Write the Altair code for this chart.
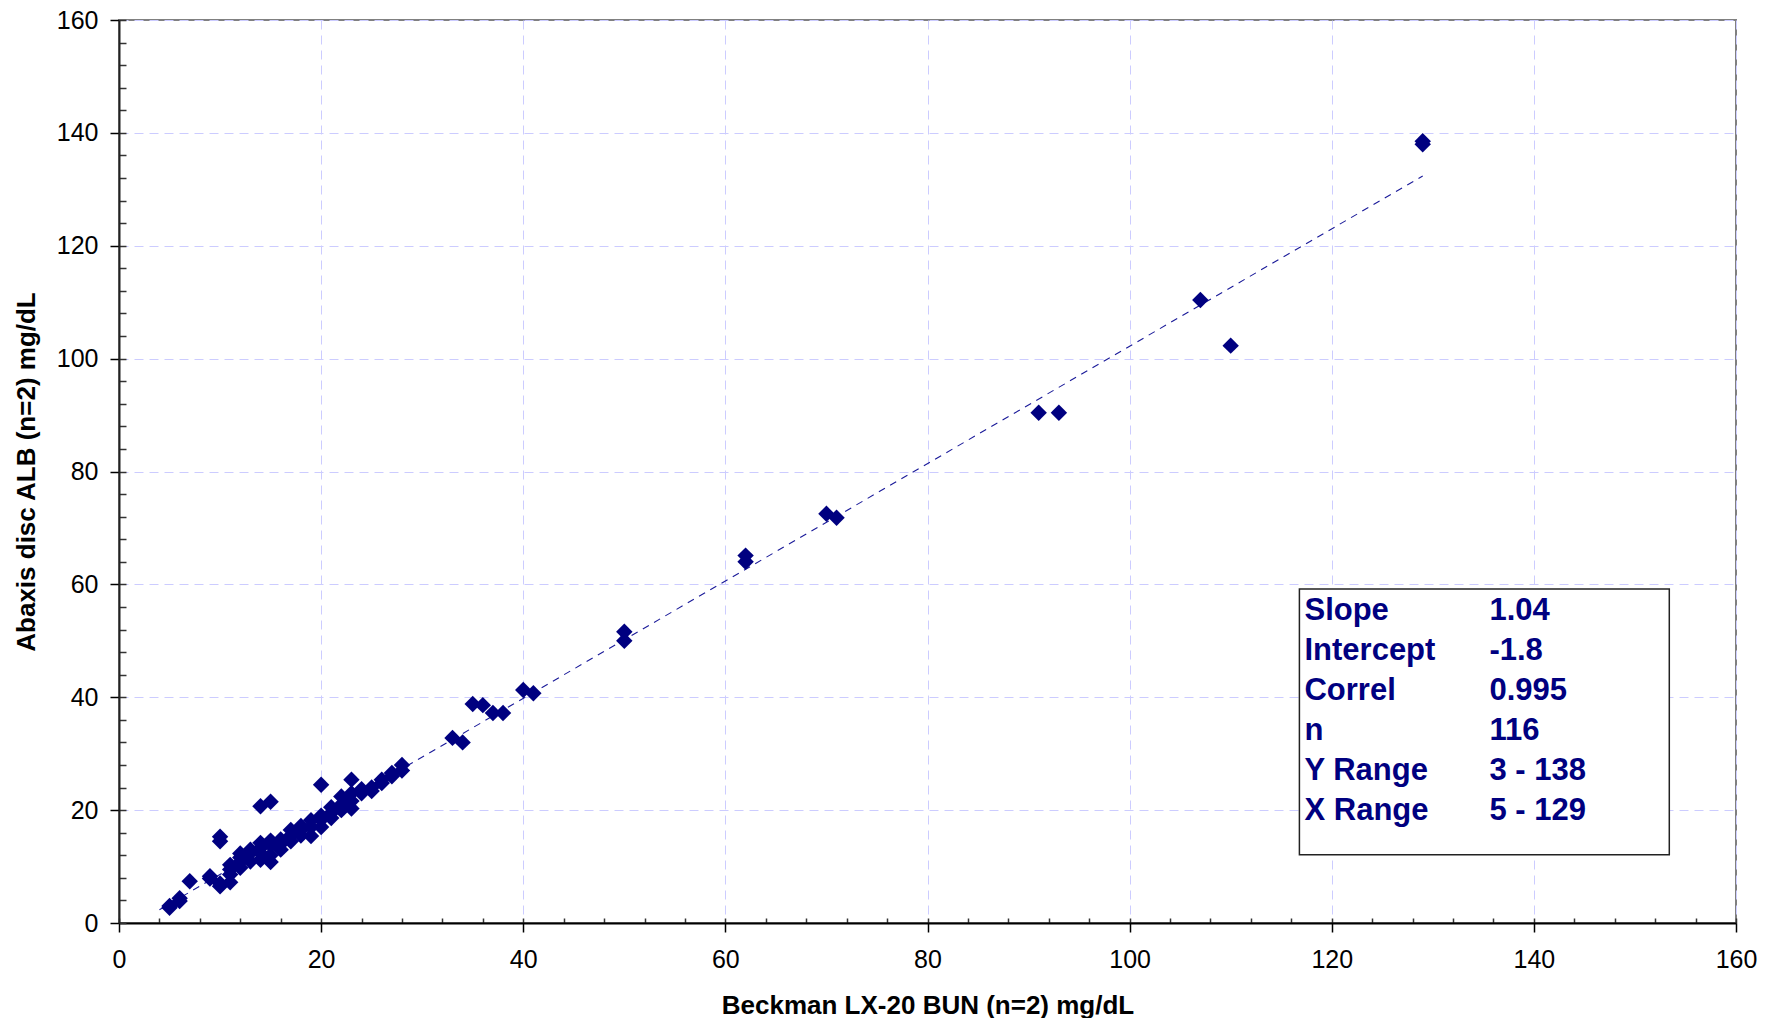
import altair as alt
import pandas as pd

# ---- data ----
beckman_x = [5, 5, 6, 6, 7, 9, 9, 10, 10, 11, 11, 10, 10,
             11, 11,
             12, 12, 12, 12,
             13, 13, 13,
             14, 14, 14, 14, 14,
             15, 15, 15, 15, 15,
             16, 16, 16,
             17, 17, 17,
             18, 18, 18,
             19, 19, 19,
             20, 20, 20, 20,
             21, 21, 21,
             22, 22, 22,
             23, 23, 23, 23,
             24, 24,
             25, 25,
             26, 26,
             27, 27,
             28, 28,
             33, 34, 35, 36, 37, 38, 40, 41,
             50, 50, 62, 62, 70, 71, 91, 93, 107, 110, 129, 129]
abaxis_y = [2.7, 3.0, 3.9, 4.4, 7.4, 8.3, 7.9, 6.5, 7.0, 7.2, 8.6, 15.3, 14.5,
            9.5, 10.3,
            9.8, 10.8, 11.6, 12.3,
            10.9, 12.4, 13.0,
            11.2, 12.4, 13.3, 14.2, 20.7,
            10.8, 12.0, 13.8, 14.6, 21.5,
            13.0, 14.0, 14.8,
            14.5, 15.5, 16.5,
            15.5, 16.5, 17.2,
            15.4, 17.0, 18.2,
            17.0, 18.3, 19.0, 24.5,
            18.6, 19.5, 20.5,
            20.0, 21.0, 22.4,
            20.3, 21.6, 23.0, 25.4,
            23.0, 23.7,
            23.4, 24.0,
            24.8, 25.4,
            26.0, 26.6,
            27.0, 28.0,
            32.8, 32.0, 38.8, 38.6, 37.2, 37.2, 41.3, 40.7,
            51.6, 50.0, 65.1, 64.0, 72.5, 71.8, 90.4, 90.4, 110.4, 102.3, 138.5, 138.0]

# regression line (from the stats box)
slope = 1.04
intercept = -1.8
fit_x = [4, 129]

stat_names = ["Slope", "Intercept", "Correl", "n", "Y Range", "X Range"]
stat_values = ["1.04", "-1.8", "0.995", "116", "3 - 138", "5 - 129"]

major_ticks = list(range(0, 161, 20))
minor_ticks = list(range(0, 161, 4))

# ---- frames ----
pts = pd.DataFrame({"x": beckman_x, "y": abaxis_y})
fit = pd.DataFrame({"x": fit_x, "y": [slope * v + intercept for v in fit_x]})

# stats box placement (data units)
box_left, box_right, box_top, box_bottom = 116.8, 153.4, 59.2, 12.1
row_top, row_step = 55.3, 7.1
label_x, value_x = 117.3, 135.6
stats = pd.DataFrame({
    "name": stat_names,
    "value": stat_values,
    "y": [row_top - row_step * i for i in range(len(stat_names))],
    "lx": [label_x] * len(stat_names),
    "vx": [value_x] * len(stat_names),
})
box = pd.DataFrame({"x1": [box_left], "x2": [box_right], "y1": [box_top], "y2": [box_bottom]})

NAVY = "#000080"
FONT = "Liberation Sans"

xs = alt.Scale(domain=[0, 160], nice=False, zero=False)
ys = alt.Scale(domain=[0, 160], nice=False, zero=False)

major_x = alt.Axis(
    values=major_ticks, orient="bottom", tickSize=9, tickWidth=1.5, tickColor="black",
    labelFontSize=25, labelFont=FONT, labelPadding=15, labelColor="black",
    domainColor="black", domainWidth=2,
    grid=True, gridColor="#ccccff", gridDash=[9, 6], gridWidth=1,
    title="Beckman LX-20 BUN (n=2) mg/dL", titleFont=FONT, titleFontSize=26,
    titleFontWeight="bold", titleColor="black", titleX=808.5, titleY=90,
    titleBaseline="alphabetic", titleAlign="center", labelFlush=False,
)
major_y = alt.Axis(
    values=major_ticks, orient="left", tickSize=9, tickWidth=1.5, tickColor="black",
    labelFontSize=25, labelFont=FONT, labelPadding=12, labelColor="black",
    domainColor="#222222", domainWidth=2,
    grid=True, gridColor="#ccccff", gridDash=[9, 6], gridWidth=1,
    title="Abaxis disc ALB (n=2) mg/dL", titleFont=FONT, titleFontSize=26,
    titleFontWeight="bold", titleColor="black", titleX=-85, titleY=451.5,
    titleBaseline="alphabetic", titleAlign="center", titleAngle=270, labelFlush=False,
)
minor_x = alt.Axis(
    values=minor_ticks, orient="bottom", labels=False, domain=False, grid=False,
    ticks=True, tickSize=5, tickWidth=1.5, tickColor="#333333", offset=-5, title=None,
)
minor_y = alt.Axis(
    values=minor_ticks, orient="left", labels=False, domain=False, grid=False,
    ticks=True, tickSize=7, tickWidth=1.5, tickColor="#333333", offset=-7, title=None,
)

points_layer = alt.Chart(pts).mark_point(
    shape="diamond", filled=True, size=270, color=NAVY, opacity=1
).encode(
    x=alt.X("x:Q", scale=xs, axis=major_x),
    y=alt.Y("y:Q", scale=ys, axis=major_y),
)

fit_layer = alt.Chart(fit).mark_line(
    color="#1a1a99", strokeWidth=1.1, strokeDash=[7, 6]
).encode(
    x=alt.X("x:Q", scale=xs, axis=minor_x),
    y=alt.Y("y:Q", scale=ys, axis=minor_y),
)

box_layer = alt.Chart(box).mark_rect(
    fill="white", stroke="#222222", strokeWidth=1.5
).encode(
    x=alt.X("x1:Q", scale=xs, axis=None),
    x2="x2:Q",
    y=alt.Y("y1:Q", scale=ys, axis=None),
    y2="y2:Q",
)

name_layer = alt.Chart(stats).mark_text(
    align="left", baseline="middle", font=FONT, fontWeight="bold", fontSize=31, color=NAVY
).encode(
    x=alt.X("lx:Q", scale=xs, axis=None),
    y=alt.Y("y:Q", scale=ys, axis=None),
    text="name:N",
)

value_layer = alt.Chart(stats).mark_text(
    align="left", baseline="middle", font=FONT, fontWeight="bold", fontSize=31, color=NAVY
).encode(
    x=alt.X("vx:Q", scale=xs, axis=None),
    y=alt.Y("y:Q", scale=ys, axis=None),
    text="value:N",
)

chart = alt.layer(
    box_layer, fit_layer, points_layer, name_layer, value_layer
).resolve_axis(
    x="independent", y="independent"
).properties(
    width=1617, height=903,
    autosize=alt.AutoSizeParams(type="none"),
    padding={"left": 111, "top": 12, "right": 30, "bottom": 95},
    background="white",
).configure_view(
    stroke="#808080", strokeWidth=2
)

chart.save("out.html", embed_options={"renderer": "svg", "actions": False})
